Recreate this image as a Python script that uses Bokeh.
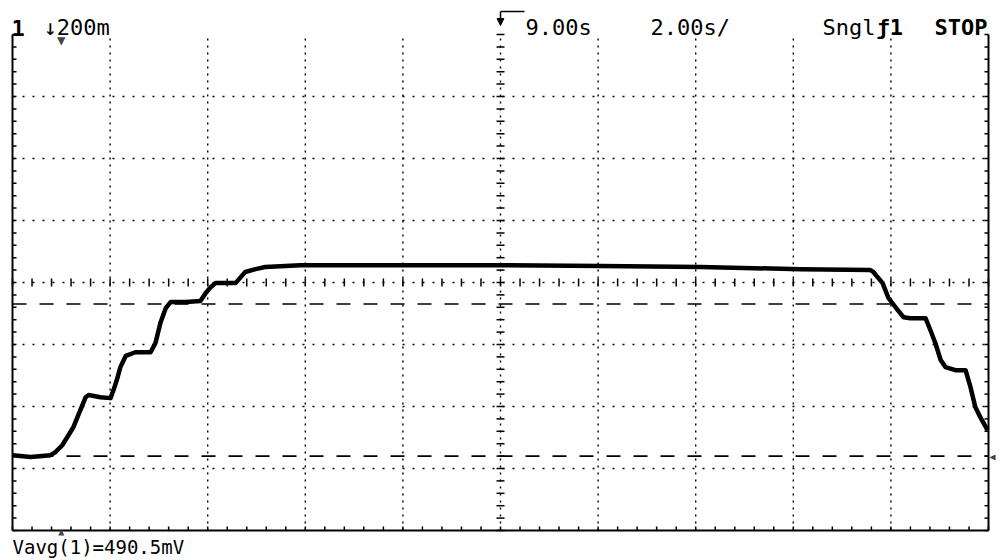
from bokeh.plotting import figure
from bokeh.models import Range1d, Label, Arrow, NormalHead, ColumnDataSource
from bokeh.embed import file_html
from bokeh.resources import INLINE

# ---- data (time in s, voltage in V) ----
t_trace = [-1.00, -0.63, -0.22, -0.12, 0.02, 0.25, 0.39, 0.50, 0.56, 0.80, 1.01, 1.07, 1.15, 1.21,
           1.32, 1.52, 1.83, 1.93, 2.03, 2.14, 2.24, 2.55, 2.85, 2.96, 3.06, 3.16, 3.57, 3.77, 3.98,
           4.18, 4.90, 6.95, 9.00, 11.05, 13.10, 15.15, 16.58, 16.64, 16.83, 16.95, 17.14, 17.26,
           17.40, 17.71, 17.81, 17.91, 18.02, 18.12, 18.32, 18.53, 18.63, 18.73, 18.84, 18.98]
v_trace = [0.003, -0.003, 0.003, 0.013, 0.035, 0.094, 0.148, 0.190, 0.197, 0.190, 0.187, 0.213,
           0.252, 0.287, 0.323, 0.335, 0.335, 0.365, 0.429, 0.477, 0.497, 0.497, 0.500, 0.526,
           0.545, 0.558, 0.558, 0.594, 0.603, 0.610, 0.616, 0.616, 0.616, 0.613, 0.610, 0.603,
           0.600, 0.594, 0.558, 0.510, 0.471, 0.448, 0.445, 0.445, 0.406, 0.365, 0.310, 0.287,
           0.277, 0.277, 0.223, 0.158, 0.123, 0.084]

t_min, t_max = -1.0, 19.0        # 10 div x 2.00 s/div, centred on 9.00 s
v_min, v_max = -0.24, 1.36       # 8 div x 200 mV/div
t_center, v_center = 9.0, 0.56
marker_levels = [0.0, 0.4905]    # ground and Vavg markers
trigger_t = 0.0

top_texts = ["1", "\u2193200m", "9.00s", "2.00s/", "Sngl", "\u01921", "STOP"]
bottom_text = "Vavg(1)=490.5mV"

# ---- screen layout of the graticule (page pixels) ----
FX0, FX1, FY0, FY1 = 12, 988, 34, 530
W, H = 1000, 558

def tx(x):
    return t_min + (x - FX0) / (FX1 - FX0) * (t_max - t_min)
def vy(y):
    return v_min + (FY1 - y) / (FY1 - FY0) * (v_max - v_min)
dt_px = (t_max - t_min) / (FX1 - FX0)
dv_px = (v_max - v_min) / (FY1 - FY0)

p = figure(width=W, height=H, output_backend="svg", toolbar_location=None,
           x_range=Range1d(tx(0), tx(W)), y_range=Range1d(vy(H), vy(0)),
           x_axis_type=None, y_axis_type=None,
           min_border_left=0, min_border_right=0, min_border_top=0, min_border_bottom=0)
p.outline_line_color = None
p.background_fill_color = "white"
p.border_fill_color = "white"
p.xgrid.visible = False
p.ygrid.visible = False

# dotted graticule
xdiv = [t_min + 2 * k for k in range(1, 10)]
ydiv = [v_min + 0.2 * k for k in range(1, 8)]
p.segment(x0=xdiv, y0=[v_min] * len(xdiv), x1=xdiv, y1=[v_max] * len(xdiv),
          line_color="black", line_dash="2 5", line_width=1.4)
p.segment(x0=[t_min] * len(ydiv), y0=ydiv, x1=[t_max] * len(ydiv), y1=ydiv,
          line_color="black", line_dash="2 8", line_width=1.4)

# borders (left, right, bottom)
p.segment(x0=[t_min, t_max, t_min], y0=[v_min, v_min, v_min],
          x1=[t_min, t_max, t_max], y1=[v_max, v_max, v_min],
          line_color="black", line_width=2)

# minor ticks (1/5 division) on centre lines and borders
tmin_ticks = [t_min + 0.4 * k for k in range(0, 51)]
vmin_ticks = [v_min + 0.04 * k for k in range(0, 41)]
hx0, hx1, hy0, hy1 = [], [], [], []
for t in tmin_ticks:
    hx0.append(t); hx1.append(t); hy0.append(v_center - 4 * dv_px); hy1.append(v_center + 4 * dv_px)
    hx0.append(t); hx1.append(t); hy0.append(v_min); hy1.append(v_min + 4 * dv_px)
for v in vmin_ticks:
    hx0.append(t_center - 4 * dt_px); hx1.append(t_center + 4 * dt_px); hy0.append(v); hy1.append(v)
    hx0.append(t_min); hx1.append(t_min + 4 * dt_px); hy0.append(v); hy1.append(v)
    hx0.append(t_max - 4 * dt_px); hx1.append(t_max); hy0.append(v); hy1.append(v)
p.segment(x0=hx0, y0=hy0, x1=hx1, y1=hy1, line_color="black", line_width=1.5)

# dashed marker lines
p.segment(x0=[t_min] * len(marker_levels), y0=marker_levels,
          x1=[t_max] * len(marker_levels), y1=marker_levels,
          line_color="black", line_dash="14 13", line_width=1.6)

# trace
src = ColumnDataSource(dict(t=t_trace, v=v_trace))
p.line("t", "v", source=src, line_color="black", line_width=4.5, line_join="round")

# texts
FONT = "DejaVu Sans Mono"
def lab(text, x, y, size="22px", bold=False, align="left", base="alphabetic"):
    p.add_layout(Label(x=tx(x), y=vy(y), text=text, text_font=FONT, text_font_size=size,
                       text_font_style="bold" if bold else "normal", text_color="black",
                       text_align=align, text_baseline=base))

lab(top_texts[0], 11, 27, bold=True)
lab(top_texts[1], 43, 27)
lab(top_texts[2], 525, 27)
lab(top_texts[3], 650, 27)
lab(top_texts[4], 822, 27)
lab(top_texts[5], 876, 27, bold=True)
lab(top_texts[6], 934, 27, bold=True)
lab(bottom_text, 12, 546, size="19px")

# trigger markers at t=0 (top and bottom), ground marker on the right
p.add_layout(Label(x=trigger_t, y=vy(39), text="\u25BC", text_font=FONT, text_font_size="14px",
                   text_align="center", text_baseline="alphabetic"))
p.add_layout(Label(x=trigger_t, y=vy(531), text="\u25B2", text_font=FONT, text_font_size="10px",
                   text_align="center", text_baseline="alphabetic"))
p.add_layout(Label(x=tx(989), y=marker_levels[0], text="\u25C0", text_font=FONT, text_font_size="10px",
                   text_align="left", text_baseline="middle"))

# delay hook arrow at centre top
p.add_layout(Arrow(x_start=tx(524), y_start=vy(11), x_end=t_center, y_end=vy(11), end=None,
                   line_color="black", line_width=1.5))
p.add_layout(Arrow(x_start=t_center, y_start=vy(11), x_end=t_center, y_end=vy(25),
                   end=NormalHead(size=7, fill_color="black", line_color="black"),
                   line_color="black", line_width=1.5))

open("out.html", "w").write(file_html(p, INLINE))
